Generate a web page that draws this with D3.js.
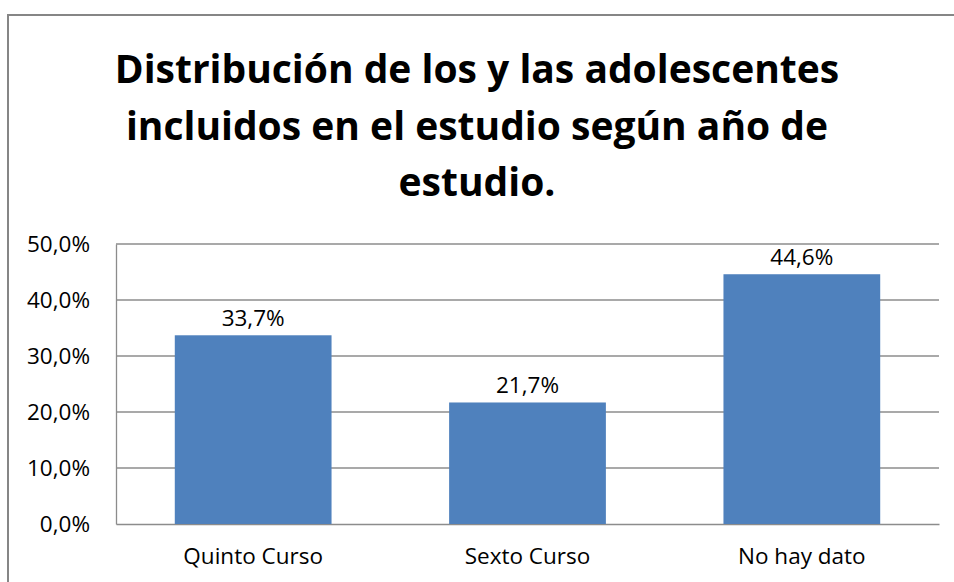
<!DOCTYPE html>
<html>
<head>
<meta charset="utf-8">
<script src="https://cdn.jsdelivr.net/npm/d3@7"></script>
<style>
	body { margin: 0; background: #fff; }
	svg text { font-family: "Open Sans", sans-serif; fill: #000; }
</style>
</head>
<body>
<div id="chart"></div>
<script>
// Data
const categories = ["Quinto Curso", "Sexto Curso", "No hay dato"];
const percents = [33.7, 21.7, 44.6];
const yTicks = [0, 10, 20, 30, 40, 50];
const titleLines = [
	"Distribución de los y las adolescentes",
	"incluidos en el estudio según año de",
	"estudio."
];

const width = 954, height = 582;
const margin = { top: 244, right: 15, bottom: 58, left: 116 };
const innerWidth = width - margin.left - margin.right;
const innerHeight = height - margin.top - margin.bottom;

const fmt = v => v.toFixed(1).replace(".", ",") + "%";

let svg = d3.select("#chart").append("svg")
	.attr("width", width)
	.attr("height", height)
	.style("display", "block");

// outer frame of the chart: only top and left edge are inside the picture
svg.append("path")
	.attr("d", "M8," + height + "V15H" + width)
	.attr("fill", "none")
	.attr("stroke", "#868686")
	.attr("stroke-width", 2);

// Title
svg.append("text")
	.attr("text-anchor", "middle")
	.style("font-weight", "bold")
	.style("font-size", "39px")
	.selectAll("tspan")
	.data(titleLines).enter()
	.append("tspan")
	.attr("x", 477)
	.attr("y", (d, i) => 83 + i * 56.5)
	.text(d => d);

// scales
let x = d3.scaleBand()
	.domain(categories)
	.range([0, innerWidth])
	.paddingInner(0.4286)
	.paddingOuter(0.2143);

let y = d3.scaleLinear()
	.domain([0, 50])
	.range([innerHeight, 0]);

const g = svg.append("g")
	.attr("transform", "translate(" + margin.left + "," + margin.top + ")");

// gridlines
g.append("g")
	.selectAll("line")
	.data(yTicks.slice(1)).enter()
	.append("line")
	.attr("x1", 0).attr("x2", innerWidth)
	.attr("y1", d => y(d)).attr("y2", d => y(d))
	.attr("stroke", "#8c8c8c")
	.attr("stroke-width", 1.3);

// Y Axis
let yAxis = g.append("g")
	.call(d3.axisLeft(y).tickValues(yTicks).tickSize(0).tickPadding(26).tickFormat(fmt));
yAxis.select(".domain").attr("stroke", "#8c8c8c").attr("stroke-width", 1.3);
yAxis.selectAll("text").style("font-size", "22.5px").attr("dy", "0.35em");

// X Axis
let xAxis = g.append("g")
	.attr("transform", "translate(0," + innerHeight + ")")
	.call(d3.axisBottom(x).tickSize(0).tickPadding(24));
xAxis.select(".domain").attr("stroke", "#8c8c8c").attr("stroke-width", 1.3);
xAxis.selectAll("text").style("font-size", "22.5px");

// bars
g.selectAll("rect.bar")
	.data(percents).enter()
	.append("rect")
	.attr("class", "bar")
	.attr("x", (d, i) => x(categories[i]))
	.attr("y", d => y(d))
	.attr("width", x.bandwidth())
	.attr("height", d => innerHeight - y(d))
	.attr("fill", "#4f81bd");

// value labels
g.selectAll("text.lbl")
	.data(percents).enter()
	.append("text")
	.attr("class", "lbl")
	.attr("text-anchor", "middle")
	.attr("x", (d, i) => x(categories[i]) + x.bandwidth() / 2)
	.attr("y", d => y(d) - 9)
	.style("font-size", "22.5px")
	.text(fmt);
</script>
</body>
</html>
